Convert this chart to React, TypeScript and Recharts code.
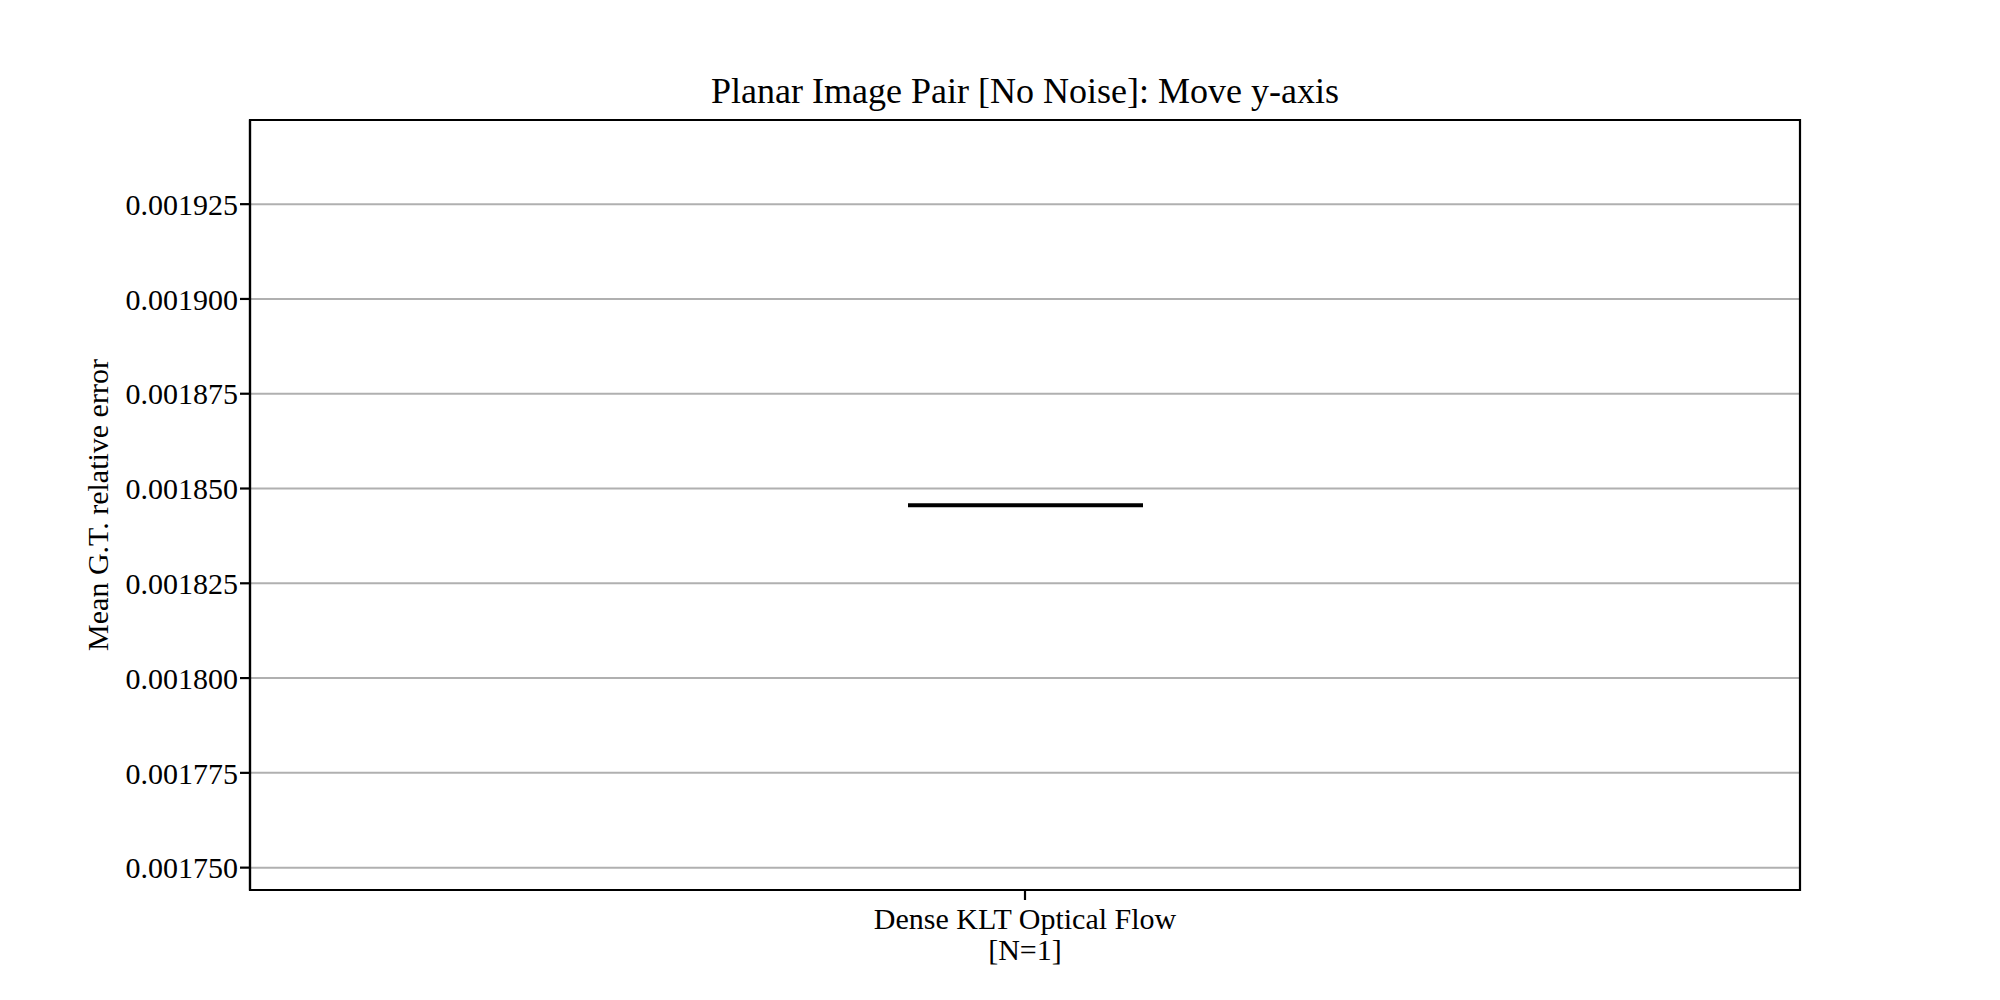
import { ComposedChart, Bar, XAxis, YAxis, CartesianGrid, ReferenceArea } from "recharts";

// one box in the plot: only a median line survives with N=1
const methods = ["Dense KLT Optical Flow"];
const sampleCounts = [1];
const medians = [0.0018456];
const yTicks = [0.00175, 0.001775, 0.0018, 0.001825, 0.00185, 0.001875, 0.0019, 0.001925];
const yDomain = [0.0017441, 0.0019472];

const FONT = '"Liberation Serif", "DejaVu Serif", serif';

const chartData = methods.map((name, i) => ({
  name,
  n: sampleCounts[i],
  median: medians[i],
}));

// draw the median as a flat black line across the box width
const MedianLine = (props: any) => {
  const { x, y, width } = props;
  return <line x1={x} x2={x + width} y1={y} y2={y} stroke="#000" strokeWidth={4} />;
};

const MethodTick = (props: any) => {
  const { x, y, payload, index } = props;
  const n = chartData[index]?.n ?? 1;
  return (
    <text x={x} y={y} textAnchor="middle" fill="#000" fontFamily={FONT} fontSize={30}>
      <tspan x={x} dy={27}>{payload.value}</tspan>
      <tspan x={x} dy={31}>[N={n}]</tspan>
    </text>
  );
};

export default function App() {
  return (
    <div style={{ position: "absolute", left: 0, top: 0, width: 2000, height: 1000, background: "#fff" }}>
      <div
        style={{
          position: "absolute",
          left: 250,
          width: 1550,
          top: 71,
          textAlign: "center",
          fontFamily: FONT,
          fontSize: 36,
          color: "#000",
          lineHeight: "40px",
        }}
      >
        Planar Image Pair [No Noise]: Move y-axis
      </div>
      <div
        style={{
          position: "absolute",
          left: 98,
          top: 505,
          transform: "translate(-50%, -50%) rotate(-90deg)",
          whiteSpace: "nowrap",
          fontFamily: FONT,
          fontSize: 30,
          color: "#000",
        }}
      >
        Mean G.T. relative error
      </div>
      <ComposedChart
        width={2000}
        height={1000}
        data={chartData}
        margin={{ top: 120, right: 200, bottom: 10, left: 120 }}
        barCategoryGap={0}
      >
        <CartesianGrid vertical={false} stroke="#b0b0b0" strokeWidth={2} />
        <XAxis
          dataKey="name"
          height={100}
          tickSize={10}
          axisLine={{ stroke: "#000", strokeWidth: 2.2 }}
          tickLine={{ stroke: "#000", strokeWidth: 2.2 }}
          tick={<MethodTick />}
        />
        <YAxis
          width={130}
          domain={yDomain}
          ticks={yTicks}
          type="number"
          allowDataOverflow
          tickSize={10}
          tickFormatter={(v: number) => v.toFixed(6)}
          axisLine={{ stroke: "#000", strokeWidth: 2.2 }}
          tickLine={{ stroke: "#000", strokeWidth: 2.2 }}
          tick={{ fill: "#000", fontFamily: FONT, fontSize: 30 }}
        />
        {/* plot frame */}
        <ReferenceArea
          y1={yDomain[0]}
          y2={yDomain[1]}
          fill="none"
          fillOpacity={0}
          stroke="#000"
          strokeWidth={2.2}
          ifOverflow="visible"
        />
        <Bar dataKey="median" barSize={235} shape={<MedianLine />} isAnimationActive={false} />
      </ComposedChart>
    </div>
  );
}
